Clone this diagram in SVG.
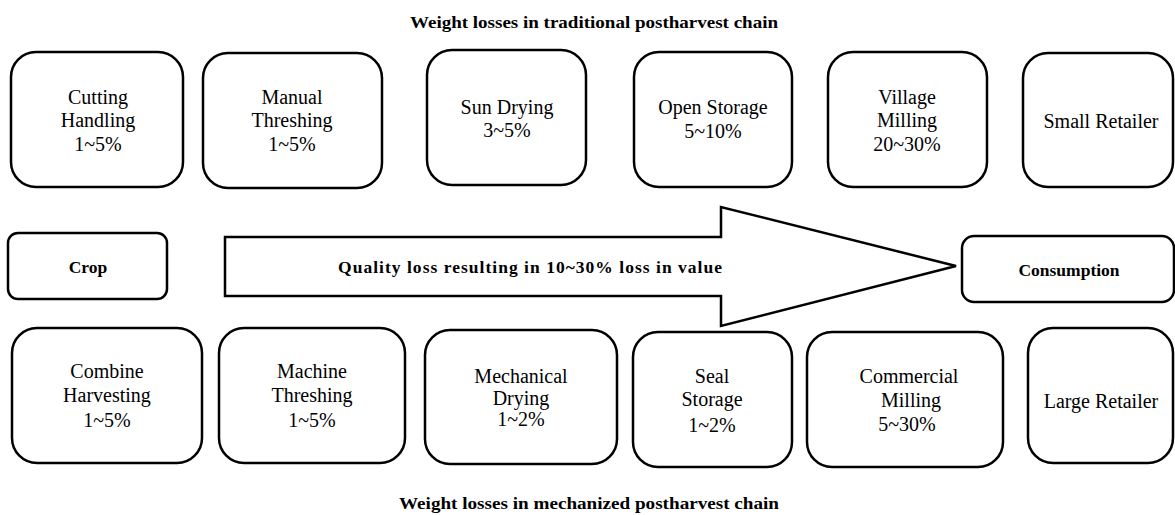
<svg xmlns="http://www.w3.org/2000/svg" width="1175" height="515" viewBox="0 0 1175 515">
<style>
  .box { fill: #ffffff; stroke: #000000; stroke-width: 2.5; }
  .t { font-family: "Liberation Serif", "Times New Roman", serif; font-size: 20px; fill: #000; text-anchor: middle; }
  .b { font-family: "Liberation Serif", "Times New Roman", serif; font-size: 17.5px; font-weight: bold; fill: #000; text-anchor: middle; }
  .title { font-family: "Liberation Serif", "Times New Roman", serif; font-size: 17px; font-weight: bold; fill: #000; }
</style>
<rect width="1175" height="515" fill="#ffffff"/>

<text class="title" x="410" y="28" textLength="368" lengthAdjust="spacingAndGlyphs">Weight losses in traditional  postharvest  chain</text>

<g id="cutting-handling">
  <rect class="box" x="11" y="52" width="172" height="135" rx="25"/>
  <text class="t" x="98" y="104">Cutting</text>
  <text class="t" x="98" y="127">Handling</text>
  <text class="t" x="98" y="151">1~5%</text>
</g>
<g id="manual-threshing">
  <rect class="box" x="203" y="53" width="179" height="135" rx="25"/>
  <text class="t" x="292" y="104">Manual</text>
  <text class="t" x="292" y="127">Threshing</text>
  <text class="t" x="292" y="151">1~5%</text>
</g>
<g id="sun-drying">
  <rect class="box" x="427" y="50" width="159" height="135" rx="25"/>
  <text class="t" x="507" y="114">Sun Drying</text>
  <text class="t" x="507" y="137">3~5%</text>
</g>
<g id="open-storage">
  <rect class="box" x="634" y="52" width="158" height="135" rx="25"/>
  <text class="t" x="713" y="114">Open Storage</text>
  <text class="t" x="713" y="138">5~10%</text>
</g>
<g id="village-milling">
  <rect class="box" x="828" y="52" width="159" height="135" rx="25"/>
  <text class="t" x="907" y="104">Village</text>
  <text class="t" x="907" y="127">Milling</text>
  <text class="t" x="907" y="151">20~30%</text>
</g>
<g id="small-retailer">
  <rect class="box" x="1023" y="53" width="150" height="134" rx="25"/>
  <text class="t" x="1101" y="128">Small Retailer</text>
</g>

<g id="crop">
  <rect class="box" x="8" y="233" width="159" height="66" rx="10"/>
  <text class="b" x="88" y="273">Crop</text>
</g>

<g id="connectors">
  <polygon class="box" points="225,237 721,237 721,207 956,266 721,326 721,296 225,296"/>
  <text class="b" x="530" y="273" textLength="384" lengthAdjust="spacing">Quality loss resulting in 10~30% loss in value</text>
</g>

<g id="consumption">
  <rect class="box" x="962" y="236" width="212" height="66" rx="12"/>
  <text class="b" x="1069" y="276">Consumption</text>
</g>

<g id="combine-harvesting">
  <rect class="box" x="12" y="328" width="190" height="135" rx="25"/>
  <text class="t" x="107" y="378">Combine</text>
  <text class="t" x="107" y="402">Harvesting</text>
  <text class="t" x="107" y="427">1~5%</text>
</g>
<g id="machine-threshing">
  <rect class="box" x="219" y="328" width="186" height="135" rx="25"/>
  <text class="t" x="312" y="378">Machine</text>
  <text class="t" x="312" y="402">Threshing</text>
  <text class="t" x="312" y="427">1~5%</text>
</g>
<g id="mechanical-drying">
  <rect class="box" x="425" y="330" width="192" height="134" rx="25"/>
  <text class="t" x="521" y="383">Mechanical</text>
  <text class="t" x="521" y="405">Drying</text>
  <text class="t" x="521" y="426">1~2%</text>
</g>
<g id="seal-storage">
  <rect class="box" x="633" y="332" width="159" height="135" rx="25"/>
  <text class="t" x="712" y="383">Seal</text>
  <text class="t" x="712" y="406">Storage</text>
  <text class="t" x="712" y="432">1~2%</text>
</g>
<g id="commercial-milling">
  <rect class="box" x="807" y="332" width="196" height="135" rx="25"/>
  <text class="t" x="909" y="383">Commercial</text>
  <text class="t" x="911" y="407">Milling</text>
  <text class="t" x="907" y="431">5~30%</text>
</g>
<g id="large-retailer">
  <rect class="box" x="1028" y="328" width="145" height="135" rx="25"/>
  <text class="t" x="1101" y="408">Large Retailer</text>
</g>

<text class="title" x="399" y="509" textLength="380" lengthAdjust="spacingAndGlyphs">Weight losses in mechanized postharvest chain</text>
</svg>
